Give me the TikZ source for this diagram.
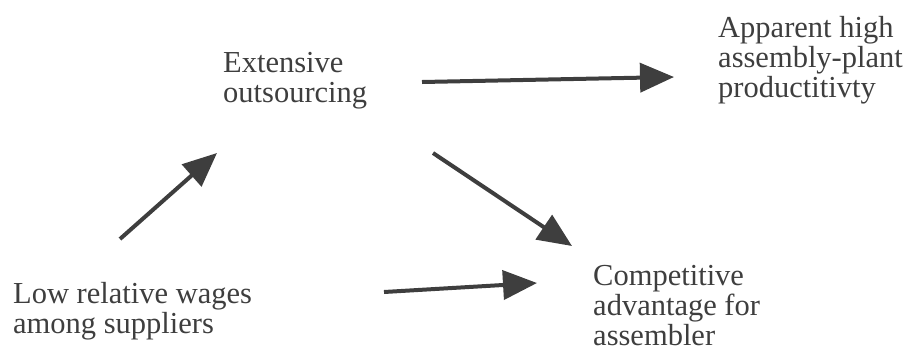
\documentclass[tikz,border=0pt]{standalone}
\usepackage{fontspec}
\setmainfont{Liberation Serif}
\usetikzlibrary{arrows.meta}
\definecolor{ink}{HTML}{3E3E3E}
\begin{document}
\begin{tikzpicture}[x=1pt,y=-1pt,
            arr/.style={-{Triangle[length=34pt,width=29pt]},line width=4pt,draw=ink,fill=ink},
            factor/.style={anchor=base west,inner sep=0pt,align=left,text=ink,
              font=\fontsize{30.5}{30}\selectfont}]
        \useasboundingbox (0,0) rectangle (915,360);

        % Define vertices
        \node[factor] (ext) at (223,102) {Extensive\\outsourcing};
        \node[factor] (app) at (718,97) {Apparent high\\assembly-plant\\productitivty};
        \node[factor] (low) at (13,333) {Low relative wages\\among suppliers};
        \node[factor] (comp) at (593,345) {Competitive\\advantage for\\assembler};

        % Draw edges
        \draw[arr] ([shift={(199,-20)}]ext.base west) -- ([shift={(-44,-20)}]app.base west);
        \draw[arr] ([shift={(107,-94)}]low.base west) -- ([shift={(-6,51)}]ext.base west);
        \draw[arr] ([shift={(210,51)}]ext.base west) -- ([shift={(-21,-99)}]comp.base west);
        \draw[arr] ([shift={(371,-41)}]low.base west) -- ([shift={(-56,-62)}]comp.base west);

        \end{tikzpicture}
\end{document}
